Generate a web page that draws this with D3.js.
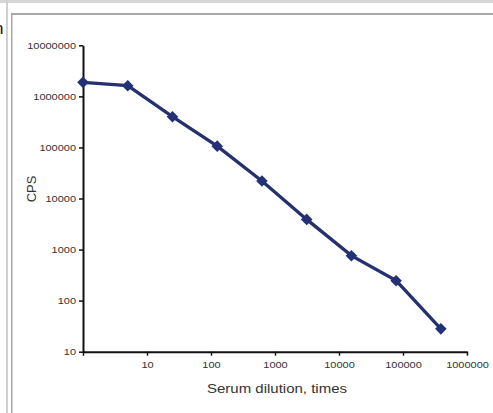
<!DOCTYPE html>
<html>
<head>
<meta charset="utf-8">
<script src="https://cdn.jsdelivr.net/npm/d3@7"></script>
<style>
  body { margin: 0; background: #fff; }
  svg { display: block; font-family: "Liberation Sans", Arial, sans-serif; }
</style>
</head>
<body>
<svg id="chart" width="493" height="413"></svg>
<script>
// serum dilution (times) vs CPS
var dilution = [1, 5, 25, 125, 625, 3125, 15625, 78125, 390625];
var cps = [1880000, 1620000, 400000, 106000, 22000, 3900, 760, 246, 28];

var xTicks = [1, 10, 100, 1000, 10000, 100000, 1000000];
var yTicks = [10, 100, 1000, 10000, 100000, 1000000, 10000000];

var svg = d3.select("#chart");

// page frame around the figure
svg.append("rect").attr("x", 0).attr("y", 0).attr("width", 493).attr("height", 3).attr("fill", "#d6d6d6");
svg.append("rect").attr("x", 6).attr("y", 0).attr("width", 2).attr("height", 413).attr("fill", "#d0d0d0");
svg.append("rect").attr("x", 11).attr("y", 13).attr("width", 482).attr("height", 2).attr("fill", "#a8a8a8");
svg.append("rect").attr("x", 11).attr("y", 13).attr("width", 1.5).attr("height", 400).attr("fill", "#a8a8a8");
svg.append("text").attr("x", -6).attr("y", 34).attr("font-size", 17).attr("fill", "#111").text("n");

var x = d3.scaleLog().domain([1, 1000000]).range([83, 467]);
var y = d3.scaleLog().domain([10, 10000000]).range([351.7, 45.3]);

var xAxis = svg.append("g")
  .attr("transform", "translate(0," + y(10) + ")")
  .call(d3.axisBottom(x).tickValues(xTicks).tickSize(4).tickSizeOuter(0).tickPadding(6)
    .tickFormat(function(d) { return d == 1 ? "" : d3.format("d")(d); }));

var yAxis = svg.append("g")
  .attr("transform", "translate(" + x(1) + ",0)")
  .call(d3.axisLeft(y).tickValues(yTicks).tickSize(4).tickSizeOuter(0).tickPadding(3)
    .tickFormat(d3.format("d")));

[xAxis, yAxis].forEach(function(a) {
  a.select(".domain").attr("stroke", "#111").attr("stroke-width", 2);
  a.selectAll(".tick line").attr("stroke", "#111").attr("stroke-width", 1.5);
  a.selectAll(".tick text")
    .attr("fill", "#333")
    .attr("font-size", 8.5)
    .attr("lengthAdjust", "spacingAndGlyphs")
    .attr("textLength", function() { var n = this.textContent.length; return n ? n * 6.1 : null; });
});

svg.append("text")
  .attr("x", 277).attr("y", 393)
  .attr("text-anchor", "middle")
  .attr("font-size", 13)
  .attr("fill", "#333")
  .attr("lengthAdjust", "spacingAndGlyphs")
  .attr("textLength", 140)
  .text("Serum dilution, times");

svg.append("text")
  .attr("transform", "translate(36,189) rotate(-90)")
  .attr("text-anchor", "middle")
  .attr("font-size", 13)
  .attr("fill", "#333")
  .text("CPS");

var pts = dilution.map(function(d, i) { return [d, cps[i]]; });

var line = d3.line()
  .x(function(d) { return x(d[0]); })
  .y(function(d) { return y(d[1]); });

svg.append("path")
  .datum(pts)
  .attr("d", line)
  .attr("fill", "none")
  .attr("stroke", "#25316f")
  .attr("stroke-width", 3.3);

svg.selectAll(".marker")
  .data(pts)
  .enter().append("path")
  .attr("class", "marker")
  .attr("transform", function(d) { return "translate(" + x(d[0]) + "," + y(d[1]) + ")"; })
  .attr("d", d3.symbol().type(d3.symbolDiamond2).size(85))
  .attr("fill", "#233178");
</script>
</body>
</html>
